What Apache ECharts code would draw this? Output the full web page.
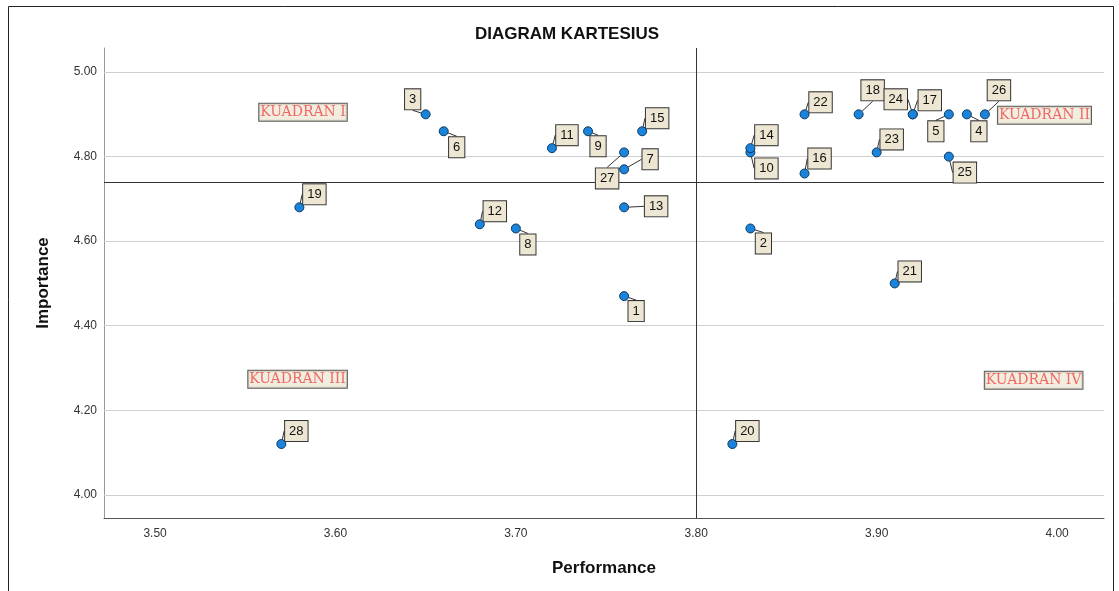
<!DOCTYPE html>
<html>
<head>
<meta charset="utf-8">
<script src="https://cdn.jsdelivr.net/npm/echarts@6/dist/echarts.min.js"></script>
<style>
  html, body { margin: 0; padding: 0; background: #fff; }
  #chart { width: 1119px; height: 591px; }
</style>
</head>
<body>
<div id="chart"></div>
<script>
// atribut 1..28
var ids = [1, 2, 3, 4, 5, 6, 7, 8, 9, 10, 11, 12, 13, 14, 15, 16, 17, 18, 19, 20, 21, 22, 23, 24, 25, 26, 27, 28];
var performance = [3.76, 3.83, 3.65, 3.95, 3.94, 3.66, 3.76, 3.70, 3.74, 3.83, 3.72, 3.68, 3.76, 3.83, 3.77, 3.86, 3.92, 3.89, 3.58, 3.82, 3.91, 3.86, 3.90, 3.92, 3.94, 3.96, 3.76, 3.57];
var importance = [4.47, 4.63, 4.90, 4.90, 4.90, 4.86, 4.77, 4.63, 4.86, 4.81, 4.82, 4.64, 4.68, 4.82, 4.86, 4.76, 4.90, 4.90, 4.68, 4.12, 4.50, 4.90, 4.81, 4.90, 4.80, 4.90, 4.81, 4.12];
var xTicks = [3.50, 3.60, 3.70, 3.80, 3.90, 4.00];
var yTicks = [4.00, 4.20, 4.40, 4.60, 4.80, 5.00];
var meanPerformance = 3.801;
var meanImportance = 4.741;

// posisi kotak label relatif ke titik (px)
var labelOffset = {
    1: [12, 15], 2: [13, 15], 3: [-13, -15], 4: [12, 17], 5: [-13, 17],
    6: [13, 16], 7: [26, -10], 8: [12, 16], 9: [10, 15], 10: [16, 16],
    11: [15, -13], 12: [15, -13], 13: [32, -1], 14: [16, -13], 15: [15, -13],
    16: [15, -15], 17: [17, -14], 18: [14, -24], 19: [15, -13], 20: [15, -13],
    21: [15, -12], 22: [16, -12], 23: [15, -13], 24: [-17, -15], 25: [16, 16],
    26: [14, -24], 27: [-17, 26], 28: [15, -13]
};

var points = [];
for (var i = 0; i < ids.length; i++) {
    points.push({ name: String(ids[i]), value: [performance[i], importance[i]] });
}

var quadLabel = {
    show: true,
    position: 'inside',
    formatter: '{b}',
    fontFamily: 'DejaVu Serif',
    fontSize: 14,
    color: '#ee4646',
    backgroundColor: '#efe8d6',
    borderColor: '#333',
    borderWidth: 1,
    padding: [2, 1, 1, 1]
};

var chart = echarts.init(document.getElementById('chart'));
chart.setOption({
    backgroundColor: '#fff',
    animation: false,
    title: {
        text: 'DIAGRAM KARTESIUS',
        left: 562,
        textAlign: 'center',
        top: 21,
        textStyle: { fontFamily: 'Liberation Sans', fontWeight: 'bold', fontSize: 17, color: '#111' }
    },
    graphic: [{
        type: 'rect',
        shape: { x: 8.5, y: 6.5, width: 1105, height: 600 },
        style: { fill: 'none', stroke: '#222', lineWidth: 1 },
        silent: true
    }],
    grid: { left: 104, right: 15, top: 48, bottom: 73 },
    xAxis: {
        type: 'value',
        min: 3.4717,
        max: 4.026,
        name: 'Performance',
        nameLocation: 'middle',
        nameGap: 42,
        nameTextStyle: { fontFamily: 'Liberation Sans', fontWeight: 'bold', fontSize: 17, color: '#111' },
        axisLine: { show: true, lineStyle: { color: '#555', width: 1 } },
        axisTick: { show: false },
        splitLine: { show: false },
        axisLabel: {
            customValues: xTicks,
            formatter: function (v) { return v.toFixed(2); },
            fontFamily: 'Liberation Sans', fontSize: 12, color: '#333', margin: 10
        }
    },
    yAxis: {
        type: 'value',
        min: 3.945,
        max: 5.057,
        name: 'Importance',
        nameLocation: 'middle',
        nameGap: 52,
        nameTextStyle: { fontFamily: 'Liberation Sans', fontWeight: 'bold', fontSize: 17, color: '#111' },
        axisLine: { show: true, lineStyle: { color: '#999', width: 1 } },
        axisTick: { show: false },
        splitLine: { show: false },
        axisLabel: {
            customValues: yTicks,
            formatter: function (v) { return v.toFixed(2); },
            fontFamily: 'Liberation Sans', fontSize: 12, color: '#333', margin: 7
        }
    },
    series: [{
        type: 'scatter',
        data: points,
        symbolSize: 9,
        itemStyle: { color: '#1a84dc', borderColor: '#123a5e', borderWidth: 1, opacity: 1 },
        z: 5,
        label: {
            show: true,
            position: 'inside',
            formatter: '{b}',
            fontFamily: 'Liberation Sans',
            fontSize: 13,
            lineHeight: 15,
            color: '#111',
            backgroundColor: '#ede6d3',
            borderColor: '#333',
            borderWidth: 1,
            padding: [3, 4, 2, 4]
        },
        labelLine: { show: true, lineStyle: { color: '#333', width: 1 } },
        labelLayout: function (params) {
            var o = labelOffset[ids[params.dataIndex]];
            return { dx: o[0], dy: o[1], hideOverlap: false };
        },
        markLine: {
            silent: true,
            symbol: 'none',
            label: { show: false },
            animation: false,
            data: yTicks.map(function (v) {
                return { yAxis: v, lineStyle: { color: '#cfcfcf', width: 1, type: 'solid' } };
            }).concat([
                { xAxis: meanPerformance, lineStyle: { color: '#333', width: 1, type: 'solid' } },
                { yAxis: meanImportance, lineStyle: { color: '#333', width: 1, type: 'solid' } }
            ])
        }
    }, {
        type: 'scatter',
        symbolSize: 0,
        silent: true,
        z: 4,
        label: quadLabel,
        data: [
            { name: 'KUADRAN I', value: [3.582, 4.905] },
            { name: 'KUADRAN II', value: [3.993, 4.898] },
            { name: 'KUADRAN III', value: [3.579, 4.273] },
            { name: 'KUADRAN IV', value: [3.987, 4.271] }
        ]
    }]
});
</script>
</body>
</html>
